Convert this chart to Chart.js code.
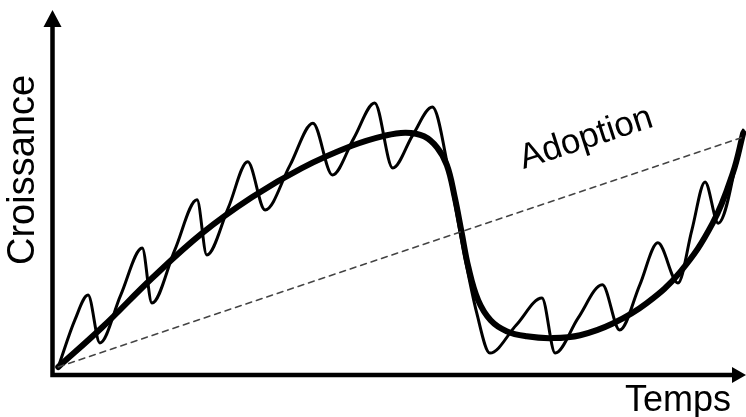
<!DOCTYPE html>
<html>
<head>
<meta charset="utf-8">
<script src="https://cdn.jsdelivr.net/npm/chart.js@4"></script>
<style>
  html, body { margin: 0; padding: 0; background: #fff; }
  #wrap { width: 746px; height: 417px; position: relative; }
</style>
</head>
<body>
<div id="wrap"><canvas id="courbe"></canvas></div>
<script>
// Courbe principale (épaisse)
const thickX = [0.9, 7.2, 14.4, 21.6, 28.8, 36.0, 43.2, 48.0, 51.0, 53.6, 55.5, 56.9, 58.0, 59.0, 60.0, 61.4, 63.2, 65.5, 68.4, 72.0, 76.1, 80.8, 85.7, 90.5, 95.2, 98.1, 99.6];
const thickY = [2.2, 13.0, 26.5, 38.8, 48.7, 56.7, 62.8, 65.6, 66.4, 65.4, 62.3, 57.5, 49.0, 39.3, 29.5, 20.5, 15.0, 12.0, 10.6, 10.1, 10.9, 14.1, 19.7, 28.2, 41.6, 55.3, 66.3];

// Courbe oscillante (fine)
const thinX = [0.9, 3.3, 5.2, 6.9, 9.9, 13.0, 14.4, 17.7, 20.9, 22.3, 25.4, 28.2, 30.7, 34.3, 37.6, 40.4, 43.5, 46.5, 49.1, 52.0, 54.8, 57.4, 59.2, 61.2, 63.1, 66.9, 70.6, 72.5, 75.8, 79.3, 81.8, 84.7, 87.3, 90.2, 92.2, 94.1, 96.0, 99.6];
const thinY = [2.2, 15.1, 21.9, 8.8, 21.9, 34.8, 19.7, 34.3, 48.0, 32.9, 45.8, 58.4, 45.2, 57.5, 69.0, 54.8, 64.9, 74.5, 56.7, 65.8, 73.4, 53.4, 35.1, 17.0, 6.0, 13.7, 21.1, 6.0, 15.6, 24.7, 12.3, 24.7, 36.2, 25.2, 39.7, 52.9, 41.6, 67.1];

// Droite d'adoption (pointillés)
const adoptionX = [0.9, 99.3];
const adoptionY = [2.2, 65.0];

const axisTitleX = 'Temps';
const axisTitleY = 'Croissance';
const lineLabel = 'Adoption';

function toPoints(xs, ys) {
    return xs.map((x, i) => ({ x: x, y: ys[i] }));
}

// Axes fléchés + textes
const axesPlugin = {
    id: 'axesFleches',
    afterDraw(chart) {
        const ctx = chart.ctx;
        const area = chart.chartArea;
        const sx = chart.scales.x, sy = chart.scales.y;
        const x0 = area.left + 0.5, y0 = area.bottom;
        ctx.save();
        ctx.strokeStyle = '#000';
        ctx.fillStyle = '#000';
        ctx.lineWidth = 4.5;
        ctx.lineCap = 'square';
        ctx.beginPath();
        ctx.moveTo(x0, area.top + 14);
        ctx.lineTo(x0, y0);
        ctx.lineTo(area.right - 10, y0);
        ctx.stroke();
        // pointe verticale
        ctx.beginPath();
        ctx.moveTo(x0, area.top);
        ctx.lineTo(x0 - 9, area.top + 17);
        ctx.lineTo(x0 + 9, area.top + 17);
        ctx.closePath();
        ctx.fill();
        // pointe horizontale
        ctx.beginPath();
        ctx.moveTo(area.right, y0);
        ctx.lineTo(area.right - 14, y0 - 8);
        ctx.lineTo(area.right - 14, y0 + 8);
        ctx.closePath();
        ctx.fill();

        ctx.font = '36px "Liberation Sans", Arial, sans-serif';
        ctx.textAlign = 'right';
        ctx.textBaseline = 'alphabetic';
        ctx.fillText(axisTitleX, area.right - 15, 411);

        ctx.save();
        ctx.translate(34, 170);
        ctx.rotate(-Math.PI / 2);
        ctx.textAlign = 'center';
        ctx.font = '38px "Liberation Sans", Arial, sans-serif';
        ctx.fillText(axisTitleY, 0, 0);
        ctx.restore();

        ctx.save();
        ctx.translate(sx.getPixelForValue(77.4), sy.getPixelForValue(62.3));
        ctx.rotate(-18 * Math.PI / 180);
        ctx.font = '35px "Liberation Sans", Arial, sans-serif';
        ctx.textAlign = 'center';
        ctx.fillText(lineLabel, 0, 0);
        ctx.restore();
        ctx.restore();
    }
};

new Chart(document.getElementById('courbe'), {
    type: 'line',
    data: {
        datasets: [
            {
                data: toPoints(adoptionX, adoptionY),
                borderColor: '#444',
                borderWidth: 1.5,
                borderDash: [6, 5],
                pointRadius: 0,
                fill: false
            },
            {
                data: toPoints(thinX, thinY),
                borderColor: '#000',
                borderWidth: 3,
                cubicInterpolationMode: 'monotone',
                pointRadius: 0,
                fill: false
            },
            {
                data: toPoints(thickX, thickY),
                borderColor: '#000',
                borderWidth: 6,
                tension: 0.4,
                pointRadius: 0,
                fill: false
            }
        ]
    },
    options: {
        responsive: true,
        maintainAspectRatio: false,
        animation: false,
        layout: { padding: { left: 52, top: 10, right: 0, bottom: 42 } },
        plugins: { legend: { display: false }, tooltip: { enabled: false } },
        scales: {
            x: { type: 'linear', min: 0, max: 100, display: false },
            y: { type: 'linear', min: 0, max: 100, display: false }
        },
        elements: { line: { borderCapStyle: 'round', borderJoinStyle: 'round' } }
    },
    plugins: [axesPlugin]
});
</script>
</body>
</html>
